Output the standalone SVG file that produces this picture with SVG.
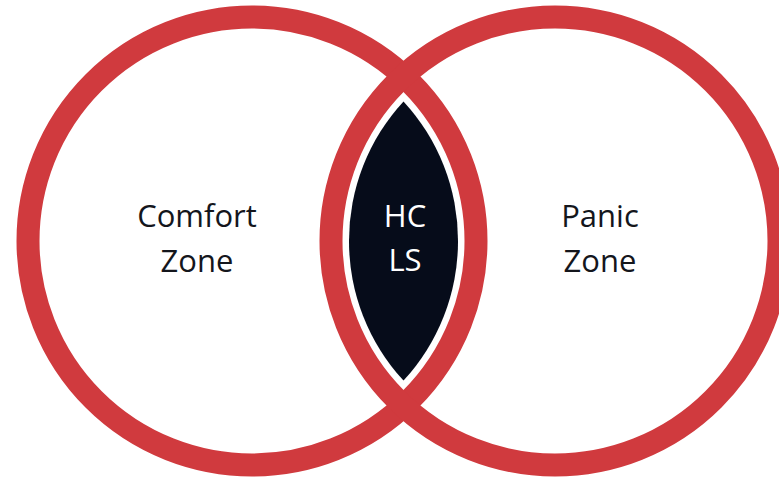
<svg xmlns="http://www.w3.org/2000/svg" width="779" height="481" viewBox="0 0 779 481">
<style>
.ring{fill:none;stroke:#d03a3e;stroke-width:23}
.lbl{font-family:"Open Sans","Liberation Sans",sans-serif;font-size:31px;text-anchor:middle;fill:#14161c}
.lbl-w{font-family:"Open Sans","Liberation Sans",sans-serif;font-size:31px;text-anchor:middle;fill:#ffffff}
</style>
<rect width="779" height="481" fill="#ffffff"/>
<g id="overlap">
<path d="M403.5,101.4 A206,206 0 0,1 403.5,380.6 A206,206 0 0,1 403.5,101.4 Z" fill="#060c1a"/>
<text class="lbl-w" x="405" y="227">HC</text>
<text class="lbl-w" x="405" y="271">LS</text>
</g>
<g id="comfort-zone">
<circle class="ring" cx="252" cy="241" r="224"/>
<text class="lbl" x="197" y="227">Comfort</text>
<text class="lbl" x="197" y="272">Zone</text>
</g>
<g id="panic-zone">
<circle class="ring" cx="555" cy="241" r="224"/>
<text class="lbl" x="600" y="227">Panic</text>
<text class="lbl" x="600" y="272">Zone</text>
</g>
</svg>
